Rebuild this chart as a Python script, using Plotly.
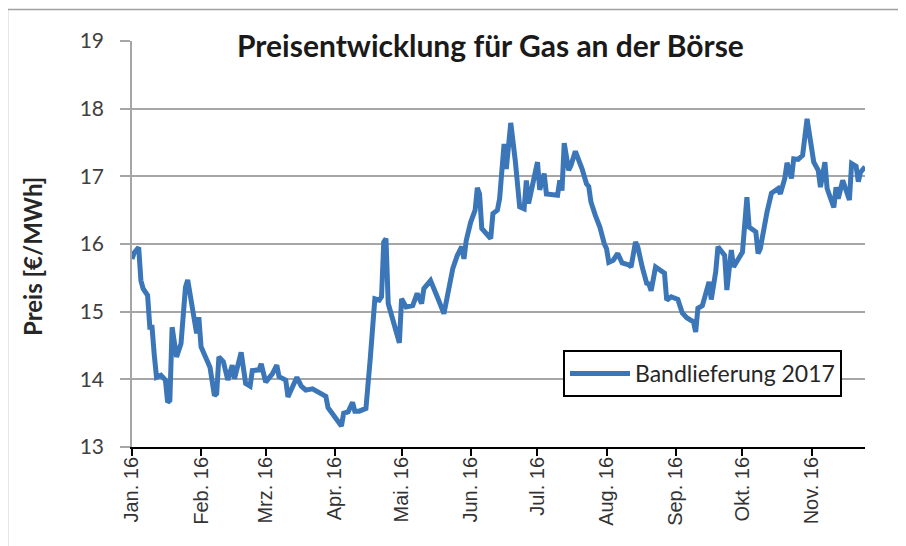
import pandas as pd
import plotly.graph_objects as go

# Days since 2016-01-01 and price [€/MWh] (Bandlieferung 2017)
day_offsets = [0, 1, 3, 4, 5, 7, 8, 9, 10, 11, 13, 15, 16, 17, 18, 20, 22, 24, 25, 27,
               29, 30, 31, 33, 35, 37, 38, 39, 41, 43, 45, 46, 49, 51, 53, 54, 57, 58, 60, 63,
               65, 66, 69, 70, 74, 76, 78, 81, 85, 87, 88, 90, 93, 94, 95, 97, 99, 100, 102, 105,
               107, 109, 111, 112, 113, 114, 115, 118, 120, 121, 123, 126, 128, 130, 131, 134, 136, 137, 140, 142,
               144, 146, 148, 149, 150, 152, 154, 155, 156, 157, 159, 161, 162, 164, 165, 167, 168, 170, 172, 174,
               176, 177, 178, 180, 182, 183, 185, 186, 189, 191, 192, 193, 194, 196, 197, 199, 202, 204, 205, 206,
               208, 210, 212, 213, 214, 216, 218, 220, 223, 224, 226, 227, 229, 231, 232, 233, 235, 237, 239, 240,
               242, 245, 247, 249, 252, 253, 254, 256, 259, 260, 262, 263, 266, 267, 269, 270, 272, 274, 276, 277,
               280, 281, 282, 284, 285, 287, 290, 291, 293, 294, 296, 297, 299, 301, 303, 306, 308, 309, 311, 312,
               315, 316, 317, 319, 322, 323, 325, 326, 327, 329]
prices = [15.78, 15.87, 15.95, 15.46, 15.34, 15.24, 14.77, 14.77, 14.36, 14.03, 14.06, 13.99, 13.66, 13.69, 14.77, 14.33, 14.53, 15.36, 15.47, 15.12,
          14.68, 14.92, 14.48, 14.33, 14.18, 13.76, 13.79, 14.33, 14.26, 13.99, 14.21, 14.01, 14.40, 13.94, 13.90, 14.13, 14.14, 14.23, 13.96, 14.08,
          14.21, 14.04, 13.99, 13.74, 14.03, 13.90, 13.84, 13.86, 13.79, 13.75, 13.58, 13.49, 13.38, 13.31, 13.50, 13.52, 13.66, 13.53, 13.53, 13.57,
          14.33, 15.19, 15.17, 15.22, 16.03, 16.08, 15.12, 14.77, 14.54, 15.19, 15.07, 15.09, 15.27, 15.12, 15.34, 15.46, 15.27, 15.22, 14.97, 15.27,
          15.64, 15.83, 15.96, 15.78, 16.05, 16.32, 16.50, 16.83, 16.74, 16.23, 16.15, 16.08, 16.45, 16.50, 16.67, 17.48, 17.11, 17.79, 17.24, 16.55,
          16.52, 16.94, 16.60, 16.94, 17.21, 16.80, 17.04, 16.74, 16.72, 16.72, 16.94, 16.79, 17.49, 17.09, 17.16, 17.37, 17.11, 16.89, 16.85, 16.62,
          16.42, 16.25, 16.00, 15.93, 15.73, 15.76, 15.86, 15.72, 15.69, 15.66, 16.03, 15.96, 15.66, 15.42, 15.41, 15.31, 15.66, 15.61, 15.57, 15.17,
          15.22, 15.18, 14.98, 14.91, 14.85, 14.70, 15.05, 15.09, 15.44, 15.18, 15.59, 15.96, 15.83, 15.32, 15.91, 15.66, 15.78, 15.88, 16.69, 16.25,
          16.18, 15.86, 15.93, 16.35, 16.47, 16.75, 16.82, 16.74, 16.97, 17.20, 16.97, 17.26, 17.25, 17.31, 17.85, 17.21, 17.09, 16.84, 17.21, 16.82,
          16.54, 16.84, 16.67, 16.94, 16.65, 17.19, 17.15, 16.92, 17.06, 17.14]

tick_dates = ["2016-01-01", "2016-02-01", "2016-03-01", "2016-04-01", "2016-05-01", "2016-06-01",
              "2016-07-01", "2016-08-01", "2016-09-01", "2016-10-01", "2016-11-01"]
tick_labels = ["Jan. 16", "Feb. 16", "Mrz. 16", "Apr. 16", "Mai. 16", "Jun. 16",
               "Jul. 16", "Aug. 16", "Sep. 16", "Okt. 16", "Nov. 16"]
y_ticks = [13, 14, 15, 16, 17, 18, 19]

series_name = "Bandlieferung 2017"
title_text = "Preisentwicklung für Gas an der Börse"
y_title = "Preis [€/MWh]"

dates = pd.Timestamp("2016-01-01") + pd.to_timedelta(day_offsets, unit="D")

fig = go.Figure()
fig.add_trace(go.Scatter(
    x=dates, y=prices, mode="lines", name=series_name,
    line=dict(color="#3b76b8", width=5),
    showlegend=True,
))

W, H = 906, 546
OFF = 8  # page body offset in the screenshot
# plot area in screenshot pixels: left 131.7, right 865, top 40.7, bottom 446.7
ml = 132 - OFF
mt = 41 - OFF
mr = W - (865 - OFF)
mb = H - (447 - OFF)
pw, ph = W - ml - mr, H - mt - mb

def px_x(x):
    return (x - OFF - ml) / pw

def px_y(y):
    return (H - mb - (y - OFF)) / ph

fig.update_layout(
    width=W, height=H,
    margin=dict(l=ml, r=mr, t=mt, b=mb, pad=0),
    paper_bgcolor="white", plot_bgcolor="white",
    font=dict(family="Lato, 'Open Sans', sans-serif", color="#404040"),
    xaxis=dict(
        type="date",
        range=[dates.min(), dates.max()],
        tickmode="array", tickvals=tick_dates, ticktext=tick_labels,
        tickangle=-90,
        tickfont=dict(family="'Liberation Sans', Arial, sans-serif", size=20, color="#333333"),
        ticks="outside", ticklen=7, tickwidth=1.5, tickcolor="#000000",
        ticklabelstandoff=-7,
        showline=True, linecolor="#000000", linewidth=1.8,
        showgrid=False, zeroline=False,
    ),
    yaxis=dict(
        range=[13, 19],
        tickmode="array", tickvals=y_ticks,
        tickfont=dict(family="Lato, sans-serif", size=21, color="#404040"),
        ticks="outside", ticklen=10, tickwidth=1.5, tickcolor="#a6a6a6",
        ticklabelstandoff=12,
        showline=True, linecolor="#a6a6a6", linewidth=1.5,
        showgrid=True, gridcolor="#a6a6a6", gridwidth=1.5,
        zeroline=False,
    ),
    legend=dict(
        x=px_x(563), y=px_y(350), xanchor="left", yanchor="top",
        bgcolor="white", bordercolor="#000000", borderwidth=2,
        font=dict(family="Lato, sans-serif", size=23, color="#262626"),
        itemwidth=60,
    ),
    shapes=[
        dict(type="rect", xref="paper", yref="paper",
             x0=px_x(7.5), x1=px_x(W + 60), y0=px_y(H + 60), y1=px_y(9.5),
             line=dict(color="#a0a0a0", width=1.5), fillcolor="rgba(0,0,0,0)", layer="below"),
    ],
    annotations=[
        dict(text="<b>" + title_text + "</b>", xref="paper", yref="paper",
             x=px_x(490), y=px_y(45), xanchor="center", yanchor="middle",
             showarrow=False, bgcolor="white", borderpad=12,
             font=dict(family="Lato, sans-serif", size=30, color="#1a1a1a")),
        dict(text="<b>" + y_title + "</b>", xref="paper", yref="paper",
             x=px_x(32), y=px_y(257), xanchor="center", yanchor="middle",
             textangle=-90, showarrow=False,
             font=dict(family="Lato, sans-serif", size=24, color="#262626")),
    ],
)

fig.write_html("out.html")
